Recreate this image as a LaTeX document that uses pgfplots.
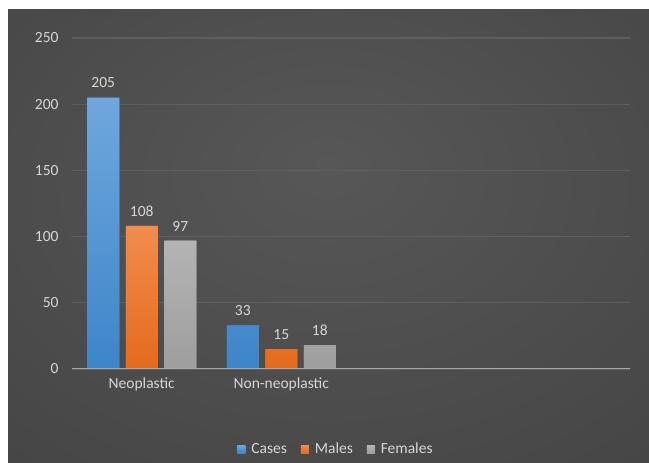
\documentclass[border=0pt]{standalone}
\usepackage{pgfplots}
\pgfplotsset{compat=1.18}
\usepackage{fontspec}
\setmainfont{Carlito}
\definecolor{txt}{HTML}{D6D6D6}
\definecolor{gridc}{HTML}{5E5E5E}
\definecolor{axisc}{HTML}{A8A8A8}
\definecolor{bgc}{HTML}{575757}
\definecolor{bgm}{HTML}{454545}
\definecolor{bgo}{HTML}{323232}
\definecolor{blueT}{HTML}{6FA7DD}
\definecolor{blueB}{HTML}{3D85C9}
\definecolor{orT}{HTML}{F18C4E}
\definecolor{orB}{HTML}{E56A1C}
\definecolor{grT}{HTML}{B4B4B4}
\definecolor{grB}{HTML}{9E9E9E}
\pgfdeclareradialshading{bgshade}{\pgfpoint{0bp}{8bp}}{color(0bp)=(bgc); color(40bp)=(bgm); color(72bp)=(bgo)}
\begin{document}
\begin{tikzpicture}[x=1bp,y=1bp]
\useasboundingbox (0,0) rectangle (649,463);
\fill[white] (0,0) rectangle (649,463);
\shade[shading=bgshade] (8,0) rectangle (649,453);
\begin{axis}[
  at={(72bp,94bp)}, anchor=south west,
  scale only axis, width=558bp, height=331bp,
  xmin=-0.5, xmax=3.5, ymin=0, ymax=250,
  xtick={0,1}, xticklabels={Neoplastic,Non-neoplastic},
  ytick={0,50,100,150,200,250},
  axis line style={draw=none},
  major tick length=0pt,
  ymajorgrids, grid style={gridc, line width=1.2bp},
  tick label style={font=\fontsize{15.5bp}{18bp}\selectfont, text=txt},
  yticklabel style={xshift=-10bp},
  xticklabel style={yshift=-5bp},
  /pgf/number format/assume math mode=true,
  ybar=6.5bp, bar width=32bp,
  nodes near coords,
  every node near coord/.append style={font=\fontsize{15.5bp}{18bp}\selectfont, text=txt, yshift=6bp},
  legend columns=3,
  legend style={draw=none, fill=none, at={(0.473,-0.242)}, anchor=center,
    font=\fontsize{15.5bp}{18bp}\selectfont, text=txt,
    /tikz/every odd column/.append style={column sep=4bp},
    /tikz/every even column/.append style={column sep=12bp}},
  legend image code/.code={\fill[#1] (0bp,-4bp) rectangle (8bp,4bp);},
]
\addplot[draw=none, top color=blueT, bottom color=blueB, fill=blueB] coordinates {(0,205) (1,33)};
\addplot[draw=none, top color=orT, bottom color=orB, fill=orB] coordinates {(0,108) (1,15)};
\addplot[draw=none, top color=grT, bottom color=grB, fill=grB] coordinates {(0,97) (1,18)};
\legend{Cases,Males,Females}
\draw[axisc, line width=1.5bp] (axis cs:-0.5,0) -- (axis cs:3.5,0);
\end{axis}
\end{tikzpicture}
\end{document}
